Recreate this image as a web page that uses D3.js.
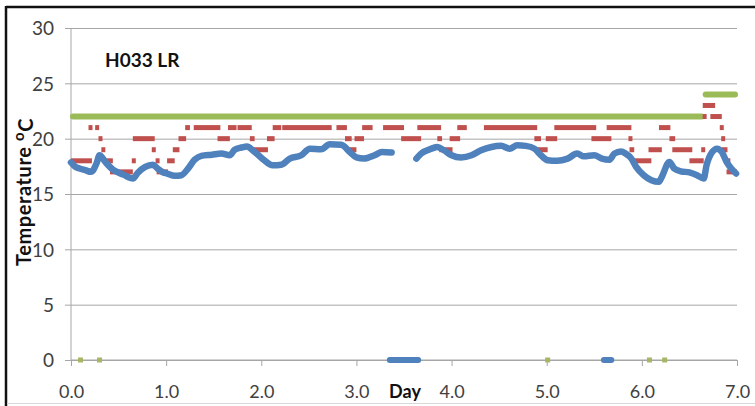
<!DOCTYPE html>
<html>
<head>
<meta charset="utf-8">
<script src="https://cdn.jsdelivr.net/npm/d3@7"></script>
<style>
  html, body { margin: 0; padding: 0; background: #fff; }
  svg { display: block; }
  text { font-family: Lato, "Open Sans", sans-serif; }
</style>
</head>
<body>
<svg id="chart" width="755" height="406"></svg>
<script>
// Axis ticks
const dayTicks = [0, 1, 2, 3, 4, 5, 6, 7];
const tempTicks = [0, 5, 10, 15, 20, 25, 30];

// Set-point (start day, end day, °C)
const setpointRuns = [[0.0, 6.65, 22], [6.65, 7.0, 24]];
// Set-point logger dropouts recorded as 0
const setpointZeroDays = [0.10, 0.30, 5.01, 6.08, 6.24];

// Thermostat reading, whole degrees (start day, end day, °C)
const thermostatRuns = [
  [0.00, 0.22, 18], [0.20, 0.21, 21], [0.27, 0.28, 21], [0.31, 0.31, 20],
  [0.34, 0.34, 19], [0.35, 0.44, 18], [0.41, 0.65, 17], [0.66, 0.66, 18],
  [0.65, 0.88, 20], [0.87, 0.87, 19], [0.91, 0.91, 18], [0.90, 1.02, 17],
  [1.01, 1.09, 18], [1.07, 1.14, 19], [1.13, 1.21, 20], [1.20, 1.25, 21],
  [1.29, 1.57, 21], [1.54, 1.67, 20], [1.65, 1.74, 21], [1.75, 1.90, 21],
  [1.88, 1.93, 20], [1.91, 2.07, 19], [2.06, 2.14, 20], [2.12, 2.21, 21],
  [2.22, 2.74, 21], [2.79, 2.90, 21], [2.88, 2.95, 20], [2.93, 3.00, 19],
  [2.98, 3.08, 20], [3.06, 3.17, 21], [3.28, 3.50, 21], [3.47, 3.68, 20],
  [3.64, 3.89, 21], [3.85, 3.90, 20], [3.87, 4.01, 19], [3.98, 4.09, 20],
  [4.06, 4.16, 21], [4.34, 4.90, 21], [4.87, 4.94, 20], [4.90, 5.01, 19],
  [4.99, 5.11, 20], [5.08, 5.52, 21], [5.47, 5.68, 20], [5.63, 5.89, 21],
  [5.86, 5.90, 20], [5.87, 5.92, 19], [5.89, 6.10, 18], [6.07, 6.21, 19],
  [6.18, 6.30, 21], [6.29, 6.35, 20], [6.32, 6.53, 19], [6.50, 6.65, 18],
  [6.63, 6.66, 19], [6.64, 6.77, 23], [6.65, 6.67, 22], [6.72, 6.84, 22],
  [6.82, 6.86, 21], [6.84, 6.87, 20], [6.84, 6.90, 19], [6.88, 6.93, 18],
  [6.89, 7.00, 17]
];

// Room air temperature (null marks the logging gap)
const roomDays = [
  0.00, 0.04, 0.09, 0.15, 0.21, 0.27, 0.30, 0.36, 0.44, 0.51, 0.55, 0.65,
  0.70, 0.78, 0.86, 0.91, 0.97, 1.01, 1.09, 1.16, 1.23, 1.30, 1.37, 1.48,
  1.58, 1.67, 1.72, 1.79, 1.85, 1.91, 2.01, 2.12, 2.21, 2.30, 2.42, 2.51,
  2.63, 2.72, 2.84, 2.93, 3.00, 3.08, 3.19, 3.27, 3.37, null,
  3.63, 3.68, 3.79, 3.85, 3.92, 4.00, 4.10, 4.21, 4.31, 4.42, 4.52, 4.61,
  4.69, 4.78, 4.87, 4.94, 5.01, 5.11, 5.22, 5.32, 5.39, 5.50, 5.58, 5.66,
  5.71, 5.78, 5.83, 5.89, 5.94, 6.02, 6.10, 6.18, 6.21, 6.29, 6.34, 6.41,
  6.50, 6.58, 6.65, 6.68, 6.74, 6.79, 6.84, 6.89, 6.94, 6.99
];
const roomTemps = [
  17.85, 17.5, 17.3, 17.15, 17.0, 17.8, 18.5, 17.9, 17.2, 16.9, 16.75, 16.4,
  16.9, 17.45, 17.65, 17.3, 16.95, 16.85, 16.65, 16.7, 17.3, 18.1, 18.45, 18.55,
  18.65, 18.5, 19.0, 19.2, 19.3, 18.95, 18.2, 17.6, 17.65, 18.2, 18.5, 19.1,
  19.05, 19.5, 19.45, 18.8, 18.3, 18.2, 18.5, 18.8, 18.75, null,
  18.2, 18.65, 19.1, 19.25, 18.95, 18.5, 18.3, 18.5, 18.95, 19.25, 19.35, 19.1,
  19.4, 19.35, 19.1, 18.5, 18.05, 18.0, 18.2, 18.65, 18.4, 18.5, 18.2, 18.1,
  18.65, 18.85, 18.65, 18.2, 17.45, 16.7, 16.25, 16.1, 16.55, 17.9, 17.3, 17.05,
  16.95, 16.7, 16.4, 17.6, 18.8, 19.1, 18.8, 17.9, 17.3, 16.85
];
// Room sensor dropouts recorded as 0 (start day, end day)
const roomZeroRuns = [[3.33, 3.67], [5.58, 5.70]];

const GREEN = "#9BBB59", RED = "#C0504D", BLUE = "#4F81BD";

const svg = d3.select("#chart");
const x = d3.scaleLinear().domain([0, 7]).range([71, 737]);
const y = d3.scaleLinear().domain([0, 30]).range([360, 28]);

// Frame
svg.append("line").attr("x1", 6).attr("x2", 755).attr("y1", 7).attr("y2", 7)
  .attr("stroke", "#111").attr("stroke-width", 2.5);
svg.append("line").attr("x1", 6).attr("x2", 6).attr("y1", 6).attr("y2", 406)
  .attr("stroke", "#111").attr("stroke-width", 2.5);
svg.append("line").attr("x1", 7).attr("x2", 755).attr("y1", 403.5).attr("y2", 403.5)
  .attr("stroke", "#d9d9d9").attr("stroke-width", 1);

// Horizontal gridlines with left ticks
const yAxis = d3.axisLeft(y).tickValues(tempTicks).tickSize(-(x(7) - x(0))).tickPadding(17)
  .tickFormat(d3.format("d"));
const gy = svg.append("g").attr("transform", `translate(${x(0)},0)`).call(yAxis);
gy.select(".domain").remove();
gy.selectAll(".tick line").attr("stroke", "#a6a6a6").attr("x1", -6);
gy.selectAll(".tick text").attr("fill", "#404040").style("font-size", "19px")
  .attr("dy", "0.36em");

// Left axis line
svg.append("line").attr("x1", x(0)).attr("x2", x(0)).attr("y1", y(30)).attr("y2", y(0))
  .attr("stroke", "#a6a6a6");

// X axis
const xAxis = d3.axisBottom(x).tickValues(dayTicks).tickSize(6).tickPadding(19)
  .tickFormat(d3.format(".1f"));
const gx = svg.append("g").attr("transform", `translate(0,${y(0)})`).call(xAxis);
gx.select(".domain").attr("stroke", "#a6a6a6").attr("d", `M${x(0)},0H${x(7)}`);
gx.selectAll(".tick line").attr("stroke", "#a6a6a6");
gx.selectAll(".tick text").attr("fill", "#404040").style("font-size", "18px");

// Set-point line
svg.append("g").selectAll("line").data(setpointRuns).join("line")
  .attr("x1", d => x(d[0]) + 2).attr("x2", d => x(d[1]) - 2)
  .attr("y1", d => y(d[2])).attr("y2", d => y(d[2]))
  .attr("stroke", GREEN).attr("stroke-width", 6).attr("stroke-linecap", "round");

// Thermostat readings
svg.append("g").selectAll("rect").data(thermostatRuns).join("rect")
  .attr("x", d => Math.min(x(d[0]), (x(d[0]) + x(d[1])) / 2 - 2))
  .attr("width", d => Math.max(4, x(d[1]) - x(d[0])))
  .attr("y", d => y(d[2]) - 2.5).attr("height", 5)
  .attr("fill", RED);

// Room temperature
const line = d3.line()
  .defined((d, i) => roomDays[i] !== null && roomTemps[i] !== null)
  .x((d, i) => x(roomDays[i])).y((d, i) => y(roomTemps[i]))
  .curve(d3.curveMonotoneX);
svg.append("path").datum(roomDays).attr("d", line)
  .attr("fill", "none").attr("stroke", BLUE).attr("stroke-width", 6.5)
  .attr("stroke-linejoin", "round").attr("stroke-linecap", "round");

svg.append("g").selectAll("line").data(roomZeroRuns).join("line")
  .attr("x1", d => x(d[0]) + 2).attr("x2", d => x(d[1]) - 2)
  .attr("y1", y(0)).attr("y2", y(0))
  .attr("stroke", BLUE).attr("stroke-width", 6).attr("stroke-linecap", "round");

svg.append("g").selectAll("rect").data(setpointZeroDays).join("rect")
  .attr("x", d => x(d) - 2.5).attr("y", y(0) - 2.5).attr("width", 5).attr("height", 5)
  .attr("fill", "#A5B764");

// Titles
svg.append("text").attr("x", 105).attr("y", 67).text("H033 LR")
  .style("font-size", "19px").style("font-weight", "bold").attr("fill", "#111");

svg.append("text").attr("x", 405).attr("y", 398).attr("text-anchor", "middle").text("Day")
  .style("font-size", "18px").style("font-weight", "bold").attr("fill", "#111");

const yt = svg.append("text")
  .attr("transform", "translate(30.5,192) rotate(-90)")
  .attr("text-anchor", "middle")
  .style("font-size", "20px").style("font-weight", "bold")
  .style("letter-spacing", "0.6px").attr("fill", "#111");
yt.append("tspan").text("Temperature ");
yt.append("tspan").text("o").attr("dy", "-0.45em").style("font-size", "15px");
yt.append("tspan").text("C").attr("dy", "0.45em");
</script>
</body>
</html>
